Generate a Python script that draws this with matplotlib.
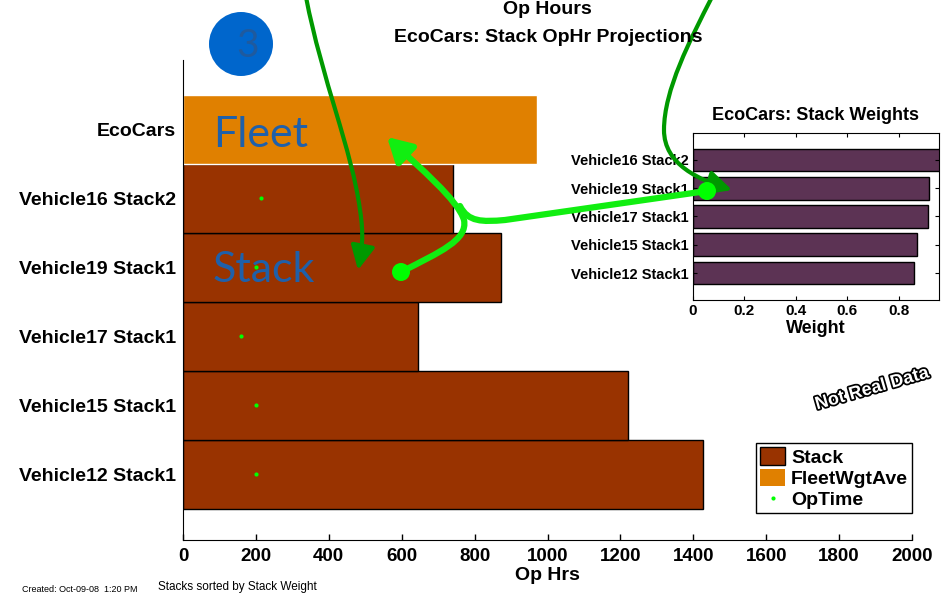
import numpy as np
import matplotlib.pyplot as plt
from matplotlib.patches import Patch, Circle, FancyArrowPatch, ArrowStyle, PathPatch
from matplotlib.lines import Line2D
from matplotlib.path import Path
from matplotlib.transforms import Affine2D
import matplotlib.patheffects as pe

plt.rcParams['font.family'] = ['Liberation Sans', 'DejaVu Sans']
plt.rcParams['font.weight'] = 'bold'

# stacks, bottom to top (sorted by stack weight)
stacks = ['Vehicle12 Stack1', 'Vehicle15 Stack1', 'Vehicle17 Stack1',
          'Vehicle19 Stack1', 'Vehicle16 Stack2']
op_hrs = [1427, 1221, 645, 872, 741]
op_time = [200, 200, 159, 200, 214]
fleet_name = 'EcoCars'
fleet_hrs = 971
weights = [0.859, 0.871, 0.914, 0.917, 1.0]
x_ticks = [0, 200, 400, 600, 800, 1000, 1200, 1400, 1600, 1800, 2000]
w_ticks = [0, 0.2, 0.4, 0.6, 0.8]

STACK_COL = '#993300'
FLEET_COL = '#E08000'
DOT_COL = '#00FF00'
W_COL = '#5C3354'

W, H = 942, 599
fig = plt.figure(figsize=(W / 100, H / 100), dpi=100)
# pixel coordinates, origin top-left
px = Affine2D().scale(1 / W, -1 / H).translate(0, 1) + fig.transFigure

# ---- main chart ----
ax = fig.add_axes([183 / W, 1 - 540 / H, (912 - 183) / W, (540 - 60) / H])
ypos = np.arange(1, len(stacks) + 1)
ax.barh(ypos, op_hrs, height=1.0, color=STACK_COL, edgecolor='black', linewidth=1)
ax.barh([len(stacks) + 1], [fleet_hrs], height=1.0, color=FLEET_COL, edgecolor='white', linewidth=1)
ax.plot(op_time, ypos, linestyle='none', marker='o', markersize=3, color=DOT_COL, markeredgewidth=0)

ax.set_xlim(0, 2000)
ax.set_ylim(0.05, 7.0)
ax.set_xticks(x_ticks)
ax.set_xticklabels([str(v) for v in x_ticks], fontsize=13.5, fontweight='bold')
ax.set_yticks(list(ypos) + [len(stacks) + 1])
ax.set_yticklabels(stacks + [fleet_name], fontsize=14, fontweight='bold')
ax.tick_params(axis='x', direction='in', length=4, width=1, pad=6)
ax.tick_params(axis='y', length=0, pad=5)
ax.spines['top'].set_visible(False)
ax.spines['right'].set_visible(False)
ax.set_xlabel('Op Hrs', fontsize=14, fontweight='bold', labelpad=1)

handles = [Patch(facecolor=STACK_COL, edgecolor='black', linewidth=1),
           Patch(facecolor=FLEET_COL, edgecolor='none'),
           Line2D([], [], linestyle='none', marker='o', markersize=3, color=DOT_COL, markeredgewidth=0)]
leg = ax.legend(handles, ['Stack', 'FleetWgtAve', 'OpTime'], loc='lower right',
                bbox_to_anchor=(1.0, 0.056), fancybox=False, edgecolor='black',
                framealpha=1, prop={'size': 14, 'weight': 'bold'},
                handlelength=1.3, handleheight=1.0, handletextpad=0.3,
                labelspacing=0.1, borderpad=0.2, borderaxespad=0)
leg.get_frame().set_linewidth(1)

# ---- stack weights inset ----
ax2 = fig.add_axes([692.8 / W, 1 - 300 / H, (939 - 692.8) / W, (300 - 132.7) / H])
ax2.barh(ypos, weights, height=0.8, color=W_COL, edgecolor='black', linewidth=1)
ax2.set_xlim(0, 0.956)
ax2.set_ylim(0.05, 5.96)
ax2.set_xticks(w_ticks)
ax2.set_xticklabels(['0', '0.2', '0.4', '0.6', '0.8'], fontsize=11, fontweight='bold')
ax2.set_yticks(ypos)
ax2.set_yticklabels(stacks, fontsize=10.5, fontweight='bold')
ax2.tick_params(direction='in', length=3, top=True, right=True, pad=3)
ax2.set_xlabel('Weight', fontsize=13, fontweight='bold', labelpad=1)
ax2.set_title('EcoCars: Stack Weights', fontsize=13, fontweight='bold', pad=9)

# ---- titles and notes ----
fig.text(547, 9, 'Op Hours', transform=px, ha='center', va='center', fontsize=14, fontweight='bold')
fig.text(548, 38, 'EcoCars: Stack OpHr Projections', transform=px, ha='center', va='center',
         fontsize=14, fontweight='bold')
fig.text(22, 589, 'Created: Oct-09-08  1:20 PM', transform=px, ha='left', va='center',
         fontsize=6.5, fontweight='normal')
fig.text(158, 587, 'Stacks sorted by Stack Weight', transform=px, ha='left', va='center',
         fontsize=8.5, fontweight='normal')
fig.text(872, 389, 'Not Real Data', transform=px, ha='center', va='center', rotation=16,
         fontsize=13, fontweight='bold', family=['Liberation Sans Narrow', 'Liberation Sans'],
         color='white', path_effects=[pe.withStroke(linewidth=2.5, foreground='black')])

# step badge
fig.add_artist(Circle((241, 44), 32, transform=px, facecolor='#0066CC', edgecolor='none'))
fig.text(248, 46, '3', transform=px, ha='center', va='center', fontsize=28,
         fontweight='normal', family=['Lato', 'DejaVu Sans'], color='#1F5A9E')

# callout labels
fig.text(213, 147, 'Fleet', transform=px, ha='left', va='baseline', fontsize=31,
         fontweight='normal', family=['Lato', 'DejaVu Sans'], color='#1F60AA')
fig.text(213, 282, 'Stack', transform=px, ha='left', va='baseline', fontsize=31,
         fontweight='normal', family=['Lato', 'DejaVu Sans'], color='#1F60AA')

# callout arrows
C, L, M = Path.CURVE4, Path.LINETO, Path.MOVETO
dark = '#009900'
bright = '#11EE11'

p1 = Path([(306, -3), (322, 80), (352, 150), (360, 210), (364, 235), (362, 250), (358, 270)],
          [M, C, C, C, C, C, C])
fig.add_artist(FancyArrowPatch(path=p1, transform=px, color=dark, linewidth=3,
                               arrowstyle=ArrowStyle('-|>', head_length=0.8, head_width=0.4),
                               mutation_scale=18, shrinkA=0, shrinkB=0))

p2 = Path([(712, -3), (690, 40), (664, 90), (664, 130), (664, 165), (700, 180), (732, 190)],
          [M, C, C, C, C, C, C])
fig.add_artist(FancyArrowPatch(path=p2, transform=px, color=dark, linewidth=3,
                               arrowstyle=ArrowStyle('-|>', head_length=0.8, head_width=0.4),
                               mutation_scale=18, shrinkA=0, shrinkB=0))

p3 = Path([(401, 272), (440, 252), (468, 240), (464, 220), (458, 200), (420, 168), (387, 137)],
          [M, C, C, C, C, C, C])
fig.add_artist(FancyArrowPatch(path=p3, transform=px, color=bright, linewidth=4.5,
                               arrowstyle=ArrowStyle('-|>', head_length=0.8, head_width=0.45),
                               mutation_scale=18, shrinkA=0, shrinkB=0))

p4 = Path([(460, 206), (468, 222), (482, 222), (505, 220), (707, 191)],
          [M, C, C, C, L])
fig.add_artist(PathPatch(p4, transform=px, facecolor='none', edgecolor=bright,
                         linewidth=4.5, capstyle='round'))
fig.add_artist(Circle((401, 272), 9, transform=px, facecolor=DOT_COL, edgecolor='none'))
fig.add_artist(Circle((707, 191), 9, transform=px, facecolor=DOT_COL, edgecolor='none'))

fig.savefig('out.png', dpi=100)
